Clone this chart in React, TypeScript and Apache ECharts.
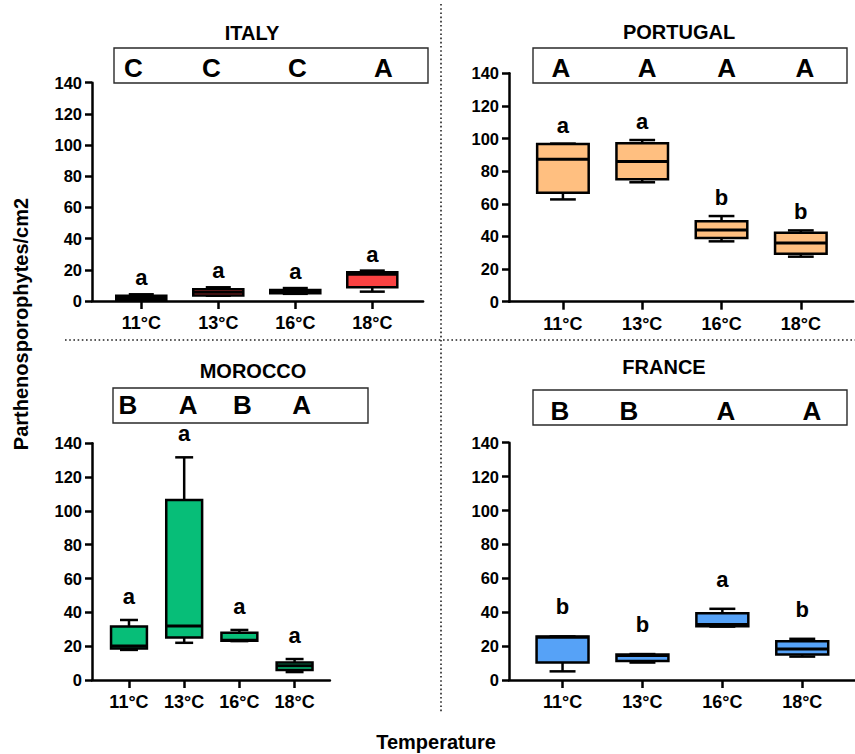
import React, { useEffect, useRef } from "react";
import * as echarts from "echarts";

// Temperature treatments shared by all four populations
const temperatures = ["11°C", "13°C", "16°C", "18°C"];

// Box summaries per temperature: [min, Q1, median, Q3, max]
const italyBoxes = [
  [0.3, 0.8, 2.0, 3.4, 4.3],
  [3.4, 3.6, 5.6, 7.5, 8.8],
  [4.6, 4.9, 6.0, 7.1, 8.3],
  [6.0, 8.8, 17.1, 18.4, 19.5],
];
const portugalBoxes = [
  [62.7, 66.8, 87.3, 96.7, 96.9],
  [73.2, 75.0, 86.0, 97.1, 99.1],
  [37.0, 39.0, 43.9, 49.3, 52.5],
  [27.6, 29.4, 36.0, 42.3, 43.7],
];
const moroccoBoxes = [
  [17.8, 18.6, 20.1, 31.6, 35.5],
  [22.0, 25.2, 32.0, 106.5, 131.7],
  [23.0, 23.2, 23.5, 28.0, 29.6],
  [4.7, 5.9, 8.5, 10.3, 12.4],
];
const franceBoxes = [
  [5.1, 10.3, 25.2, 25.6, 25.7],
  [10.3, 11.2, 14.4, 15.0, 15.3],
  [31.5, 31.7, 32.7, 39.4, 42.0],
  [13.8, 15.0, 18.3, 22.9, 24.3],
];

// Letters comparing temperatures within a population (above each box)
const italyGroups = ["a", "a", "a", "a"];
const portugalGroups = ["a", "a", "b", "b"];
const moroccoGroups = ["a", "a", "a", "a"];
const franceGroups = ["b", "b", "a", "b"];

// Letters comparing populations at each temperature (framed row)
const italyRanks = ["C", "C", "C", "A"];
const portugalRanks = ["A", "A", "A", "A"];
const moroccoRanks = ["B", "A", "B", "A"];
const franceRanks = ["B", "B", "A", "A"];

// Y axis scale
const yMin = 0;
const yMax = 140;
const yStep = 20;

const FONT = "'Liberation Sans', Arial, Helvetica, sans-serif";
const INK = "#000000";

type Panel = {
  name: string;
  boxes: number[][];
  groups: string[];
  ranks: string[];
  color: string;
  left: number;
  top: number;
  height: number;
  xMin: number;
  xMax: number;
  spacing: number;
  labelGap: number;
  title: [number, number];
  frame: [number, number, number, number];
  rankY: number;
  rankShift: number[];
};

const panels: Panel[] = [
  {
    name: "ITALY",
    boxes: italyBoxes,
    groups: italyGroups,
    ranks: italyRanks,
    color: "#FA4242",
    left: 92,
    top: 82.7,
    height: 218.3,
    xMin: 0.36,
    xMax: 4.66,
    spacing: 77,
    labelGap: 5,
    title: [252, 33],
    frame: [114, 48, 314, 35],
    rankY: 68,
    rankShift: [-8, -7, 2, 11],
  },
  {
    name: "PORTUGAL",
    boxes: portugalBoxes,
    groups: portugalGroups,
    ranks: portugalRanks,
    color: "#FFBF80",
    left: 509,
    top: 73.3,
    height: 228.4,
    xMin: 0.32,
    xMax: 4.66,
    spacing: 79.3,
    labelGap: 7,
    title: [679, 32],
    frame: [533, 48, 314, 35],
    rankY: 68,
    rankShift: [-2, 5, 5, 4],
  },
  {
    name: "MOROCCO",
    boxes: moroccoBoxes,
    groups: moroccoGroups,
    ranks: moroccoRanks,
    color: "#07BE78",
    left: 92,
    top: 443.3,
    height: 236.7,
    xMin: 0.33,
    xMax: 4.64,
    spacing: 55.2,
    labelGap: 12,
    title: [253, 371],
    frame: [113, 388, 255, 35],
    rankY: 405,
    rankShift: [-1, 4, 3, 7],
  },
  {
    name: "FRANCE",
    boxes: franceBoxes,
    groups: franceGroups,
    ranks: franceRanks,
    color: "#56A2F7",
    left: 509,
    top: 442.7,
    height: 237.3,
    xMin: 0.33,
    xMax: 4.66,
    spacing: 82,
    labelGap: 18,
    title: [664, 367],
    frame: [533, 390, 314, 35],
    rankY: 411,
    rankShift: [-4, -17, -2, 2],
  },
];

const BOX_FRACTION = 0.65;

function boxRenderer(color: string) {
  return (_params: any, api: any) => {
    const x = api.value(0);
    const mn = api.value(1);
    const q1 = api.value(2);
    const md = api.value(3);
    const q3 = api.value(4);
    const mx = api.value(5);
    const half = api.size([BOX_FRACTION, 0])[0] / 2;
    const cap = half / 2;
    const cx = api.coord([x, md])[0];
    const py = (v: number) => api.coord([x, v])[1];
    const line = { stroke: INK, lineWidth: 2.5 };
    return {
      type: "group",
      children: [
        { type: "line", shape: { x1: cx, y1: py(mx), x2: cx, y2: py(q3) }, style: line },
        { type: "line", shape: { x1: cx, y1: py(q1), x2: cx, y2: py(mn) }, style: line },
        { type: "line", shape: { x1: cx - cap, y1: py(mx), x2: cx + cap, y2: py(mx) }, style: line },
        { type: "line", shape: { x1: cx - cap, y1: py(mn), x2: cx + cap, y2: py(mn) }, style: line },
        {
          type: "rect",
          shape: { x: cx - half, y: py(q3), width: 2 * half, height: py(q1) - py(q3) },
          style: { fill: color, stroke: INK, lineWidth: 2.5 },
        },
        {
          type: "line",
          shape: { x1: cx - half, y1: py(md), x2: cx + half, y2: py(md) },
          style: { stroke: INK, lineWidth: 3 },
        },
      ],
    };
  };
}

function buildOption() {
  const grid: any[] = [];
  const xAxis: any[] = [];
  const yAxis: any[] = [];
  const series: any[] = [];
  const graphic: any[] = [];

  panels.forEach((p, i) => {
    const width = (p.xMax - p.xMin) * p.spacing;
    grid.push({ left: p.left, top: p.top, width, height: p.height, containLabel: false });
    const positions = temperatures.map((_, k) => k + 1);
    xAxis.push({
      type: "value",
      gridIndex: i,
      min: p.xMin,
      max: p.xMax,
      splitLine: { show: false },
      axisLine: { show: true, onZero: false, lineStyle: { color: INK, width: 2.5 } },
      axisTick: {
        show: true,
        customValues: positions,
        length: 8,
        lineStyle: { color: INK, width: 2.5 },
      },
      axisLabel: {
        show: true,
        customValues: positions,
        margin: 13,
        formatter: (v: number) => temperatures[Math.round(v) - 1] ?? "",
        color: INK,
        fontSize: 18,
        fontWeight: "bold",
        fontFamily: FONT,
      },
    });
    yAxis.push({
      type: "value",
      gridIndex: i,
      min: yMin,
      max: yMax,
      interval: yStep,
      splitLine: { show: false },
      axisLine: { show: true, lineStyle: { color: INK, width: 2.5 } },
      axisTick: { show: true, length: 7, lineStyle: { color: INK, width: 2.5 } },
      axisLabel: {
        margin: 10,
        color: INK,
        fontSize: 16.5,
        fontWeight: "bold",
        fontFamily: FONT,
      },
    });

    const boxData = p.boxes.map((b, k) => [k + 1, ...b]);
    series.push({
      type: "custom",
      name: p.name,
      xAxisIndex: i,
      yAxisIndex: i,
      renderItem: boxRenderer(p.color),
      encode: { x: 0, y: [1, 2, 3, 4, 5] },
      data: boxData,
      z: 3,
    });

    series.push({
      type: "scatter",
      xAxisIndex: i,
      yAxisIndex: i,
      symbol: "circle",
      symbolSize: 1,
      silent: true,
      itemStyle: { color: "rgba(0,0,0,0)", opacity: 1 },
      data: p.boxes.map((b, k) => [k + 1, b[4]]),
      label: {
        show: true,
        position: "top",
        distance: p.labelGap,
        formatter: (params: any) => p.groups[params.dataIndex],
        color: INK,
        opacity: 1,
        fontSize: 22,
        fontWeight: "bold",
        fontFamily: FONT,
      },
      z: 4,
    });

    // Panel title
    graphic.push({
      type: "text",
      x: p.title[0],
      y: p.title[1],
      style: {
        text: p.name,
        fill: INK,
        font: `bold 20px ${FONT}`,
        align: "center",
        verticalAlign: "middle",
      },
    });
    // Framed row of population letters
    graphic.push({
      type: "rect",
      shape: { x: p.frame[0], y: p.frame[1], width: p.frame[2], height: p.frame[3] },
      style: { fill: "none", stroke: "#2a2a2a", lineWidth: 1.4 },
    });
    p.ranks.forEach((r, k) => {
      const cx = p.left + (k + 1 - p.xMin) * p.spacing + p.rankShift[k];
      graphic.push({
        type: "text",
        x: cx,
        y: p.rankY,
        style: {
          text: r,
          fill: INK,
          font: `bold 26px ${FONT}`,
          align: "center",
          verticalAlign: "middle",
        },
      });
    });
  });

  // Dotted separators between the four panels
  graphic.push({
    type: "line",
    shape: { x1: 441, y1: 4, x2: 441, y2: 712 },
    style: { stroke: "#222", lineWidth: 1.6, lineDash: [1.6, 2.6] },
  });
  graphic.push({
    type: "line",
    shape: { x1: 65, y1: 340, x2: 855, y2: 340 },
    style: { stroke: "#222", lineWidth: 1.6, lineDash: [1.6, 2.6] },
  });

  // Shared axis titles
  graphic.push({
    type: "text",
    x: 21,
    y: 324,
    rotation: Math.PI / 2,
    style: {
      text: "Parthenosporophytes/cm2",
      fill: INK,
      font: `bold 20px ${FONT}`,
      align: "center",
      verticalAlign: "middle",
    },
  });
  graphic.push({
    type: "text",
    x: 436,
    y: 742,
    style: {
      text: "Temperature",
      fill: INK,
      font: `bold 20px ${FONT}`,
      align: "center",
      verticalAlign: "middle",
    },
  });

  return {
    animation: false,
    backgroundColor: "#ffffff",
    grid,
    xAxis,
    yAxis,
    series,
    graphic,
  };
}

export default function App() {
  const ref = useRef<HTMLDivElement>(null);

  useEffect(() => {
    if (!ref.current) return;
    const chart = echarts.init(ref.current, undefined, { renderer: "svg" });
    chart.setOption(buildOption() as any);
    return () => chart.dispose();
  }, []);

  return (
    <div
      ref={ref}
      style={{ position: "absolute", left: 0, top: 0, width: 855, height: 754 }}
    />
  );
}
